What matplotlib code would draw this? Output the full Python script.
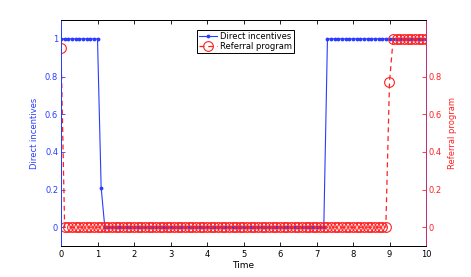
import numpy as np
import matplotlib
matplotlib.use("Agg")
import matplotlib.pyplot as plt

# time grid, step 0.1 from 0 to 10
time = np.round(np.arange(0, 101) / 10.0, 1)

# direct incentives: 1 up to t=1.0, 0.21 at t=1.1, 0 until 7.2, back to 1 from 7.3
direct = [1.0] * 11 + [0.21] + [0.0] * 61 + [1.0] * 28
# referral program: 0.95 at t=0, 0 from 0.1 to 8.9, 0.77 at 9.0, 1 afterwards
referral = [0.95] + [0.0] * 89 + [0.77] + [1.0] * 10

blue = '#2a3cff'
red = '#ff2020'

plt.rcParams['font.family'] = 'DejaVu Sans'
fig = plt.figure(figsize=(4.71, 2.77), dpi=100)
ax1 = fig.add_axes([61 / 471, 1 - 246 / 277, 365 / 471, 226 / 277])
ax2 = ax1.twinx()

l1, = ax1.plot(time, direct, color=blue, lw=0.8, marker='.', ms=3.5, label='Direct incentives')
l2, = ax2.plot(time, referral, color=red, lw=0.9, ls='--', marker='o', ms=7, mfc='none',
               mew=0.8, dashes=(4, 3), label='Referral program')

ax1.set_xlim(0, 10)
ax1.set_ylim(-0.1, 1.1)
ax2.set_ylim(-0.1, 1.1)
ax1.set_xticks(range(0, 11))
ax1.set_yticks([0, 0.2, 0.4, 0.6, 0.8, 1])
ax1.set_yticklabels(['0', '0.2', '0.4', '0.6', '0.8', '1'])
ax2.set_yticks([0, 0.2, 0.4, 0.6, 0.8])
ax2.set_yticklabels(['0', '0.2', '0.4', '0.6', '0.8'])

ax1.tick_params(axis='x', direction='in', labelsize=6, length=3, width=0.6, top=True, pad=3)
ax1.tick_params(axis='y', direction='in', labelsize=6, length=3, width=0.6, colors=blue, pad=2)
ax2.tick_params(axis='y', direction='in', labelsize=6, length=3, width=0.6, colors=red, pad=2)

ax1.set_xlabel('Time', fontsize=6.5, labelpad=1)
ax1.set_ylabel('Direct incentives', fontsize=6, color=blue, labelpad=4)
ax2.set_ylabel('Referral program', fontsize=6, color=red, labelpad=4)

for sp in ax1.spines.values():
    sp.set_linewidth(0.7)
for sp in ax2.spines.values():
    sp.set_linewidth(0.7)
ax1.spines['left'].set_color(blue)
ax2.spines['left'].set_color(blue)
ax2.spines['right'].set_color('#c0307a')
ax1.spines['right'].set_color('#c0307a')

leg = ax1.legend([l1, l2], ['Direct incentives', 'Referral program'], loc='upper center',
                 bbox_to_anchor=(0.505, 0.955), fontsize=6, fancybox=False, edgecolor='black',
                 framealpha=1, borderpad=0.25, labelspacing=0.1, handlelength=2.2,
                 handletextpad=0.3, borderaxespad=0)
leg.get_frame().set_linewidth(0.7)
leg.remove()
ax2.add_artist(leg)

fig.savefig('out.png', dpi=100)
